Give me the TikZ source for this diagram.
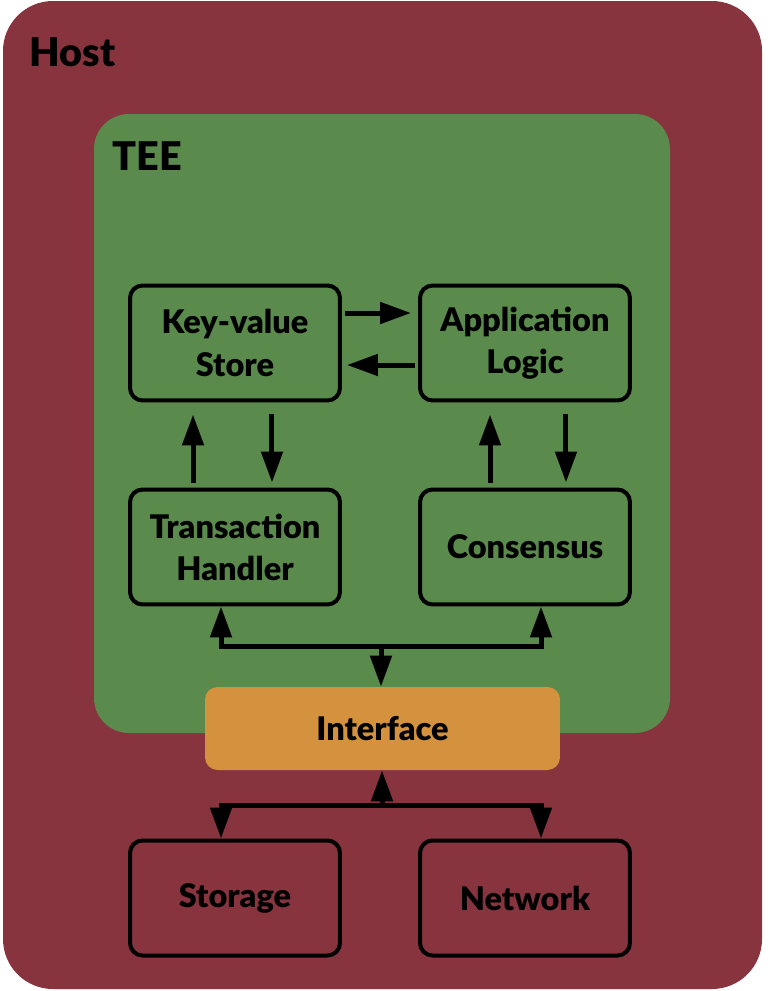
\documentclass[tikz,border=0pt]{standalone}
\usepackage{fontspec}
\setmainfont{Lato}[BoldFont={Lato Black}]
\usetikzlibrary{arrows.meta}

\definecolor{hostred}{HTML}{87343E}
\definecolor{teegreen}{HTML}{5A8A4C}
\definecolor{ifaceorange}{HTML}{D4913E}

\begin{document}
\begin{tikzpicture}[x=0.02cm, y=-0.02cm,
    >={Triangle[length=0.62cm,width=0.42cm]},
    block/.style={draw=black, line width=0.08cm, rounded corners=0.25cm,
        minimum width=4.2cm, minimum height=2.3cm, align=center,
        font=\fontsize{18.5}{24}\selectfont\bfseries},
    title/.style={anchor=base west, inner sep=0pt, font=\fontsize{22.5}{26}\selectfont\bfseries},
    link/.style={line width=0.1cm, ->}]

    % Page and the two enclosing regions
    \useasboundingbox (0,0) rectangle (770,991);
    \fill[white] (0,0) rectangle (770,991);
    \filldraw[fill=hostred, draw=none, rounded corners=1cm] (3,1) rectangle (762,989);
    \filldraw[fill=teegreen, draw=none, rounded corners=0.7cm] (94,114) rectangle (670,733);

    \node[title] (hostlabel) at (29,66) {Host};
    \node[title] (teelabel) at (112,170) {TEE};

    % Components inside the TEE
    \node[block] (kv) at (235,343) {Key-value\\Store};
    \node[block] (app) at (525,343) {Application\\Logic};
    \node[block] (th) at (235,547) {Transaction\\Handler};
    \node[block] (cons) at (525,547) {Consensus};

    % Interface and host components
    \node[fill=ifaceorange, rounded corners=0.25cm, minimum width=7.1cm, minimum height=1.66cm,
        font=\fontsize{18.5}{24}\selectfont\bfseries] (iface) at (382.5,728.5) {Interface};
    \node[block] (storage) at (235,898) {Storage};
    \node[block] (network) at (525,898) {Network};

    % Arrows between the components
    \draw[link] ([shift={(0.06cm,0.6cm)}]kv.east) -- ([shift={(-0.14cm,0.6cm)}]app.west);
    \draw[link] ([shift={(-0.06cm,-0.44cm)}]app.west) -- ([shift={(0.1cm,-0.44cm)}]kv.east);
    \draw[link] ([shift={(-0.84cm,0.1cm)}]th.north) -- ([shift={(-0.84cm,-0.24cm)}]kv.south);
    \draw[link] ([shift={(0.74cm,-0.24cm)}]kv.south) -- ([shift={(0.74cm,0.1cm)}]th.north);
    \draw[link] ([shift={(-0.7cm,0.1cm)}]cons.north) -- ([shift={(-0.7cm,-0.24cm)}]app.south);
    \draw[link] ([shift={(0.82cm,-0.24cm)}]app.south) -- ([shift={(0.82cm,0.1cm)}]cons.north);

    % Bus above the interface
    \coordinate (busT) at (381,646);
    \draw[link] (busT) -| ([xshift=-0.28cm]th.south);
    \draw[link] (busT) -| ([xshift=0.32cm]cons.south);
    \draw[link] (busT) -- (iface.north -| busT);

    % Bus below the interface
    \coordinate (busB) at (382,805);
    \draw[link] (busB) -- (iface.south -| busB);
    \draw[link] (busB) -| ([xshift=-0.28cm]storage.north);
    \draw[link] (busB) -| ([xshift=0.32cm]network.north);

\end{tikzpicture}
\end{document}
